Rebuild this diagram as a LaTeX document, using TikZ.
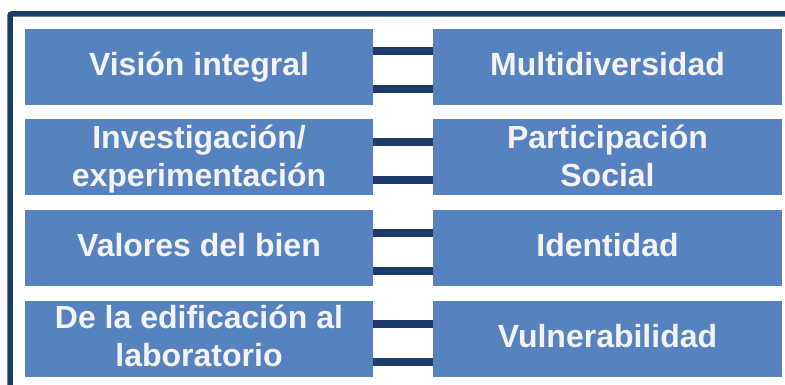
\documentclass[tikz,border=0pt]{standalone}
\usepackage{fontspec}
\setmainfont{Liberation Sans}
\definecolor{boxblue}{RGB}{86,130,192}
\definecolor{navy}{RGB}{28,59,104}
\definecolor{txtwhite}{RGB}{243,243,243}
\begin{document}
\begin{tikzpicture}[x=1pt,y=-1pt,
  box/.style={fill=boxblue,draw=none,minimum width=348pt,minimum height=76pt,inner sep=0pt},
  txt/.style={text=txtwhite,font=\fontsize{32}{38}\selectfont\bfseries,align=center,inner sep=0pt,anchor=base},
  bar/.style={draw=navy,line width=8pt},
  frame/.style={draw=navy,line width=5.5pt,rounded corners=2pt}]
\useasboundingbox (0,0) rectangle (785,385);
\clip (0,0) rectangle (785,385);
\draw[frame] (10,13.8) rectangle (800,400);
\foreach \n/\y in {1/67,2/157.5,3/248,4/339}{
  \node[box] (L\n) at (199,\y) {};
  \node[box,minimum width=349pt] (R\n) at (607.5,\y) {};
  \draw[bar] ([yshift=15.5pt]L\n.east) -- ([yshift=15.5pt]R\n.west);
  \draw[bar] ([yshift=-22.5pt]L\n.east) -- ([yshift=-22.5pt]R\n.west);
}
\node[txt] (L1t) at ([yshift=-8.5pt]L1.center) {Visión integral};
\node[txt] (R1t) at ([yshift=-8.5pt]R1.center) {Multidiversidad};
\node[txt] (L2t) at ([yshift=-28.5pt]L2.center) {Investigación/\\experimentación};
\node[txt] (R2t) at ([yshift=-28.5pt]R2.center) {Participación\\Social};
\node[txt] (L3t) at ([yshift=-8.5pt]L3.center) {Valores del bien};
\node[txt] (R3t) at ([yshift=-8.5pt]R3.center) {Identidad};
\node[txt] (L4t) at ([yshift=-27.5pt]L4.center) {De la edificación al\\laboratorio};
\node[txt] (R4t) at ([yshift=-8.5pt]R4.center) {Vulnerabilidad};
\end{tikzpicture}
\end{document}
